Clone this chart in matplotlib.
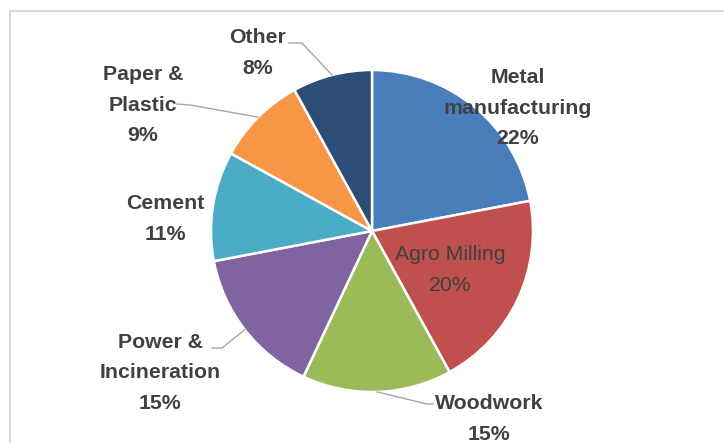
import numpy as np
import matplotlib
matplotlib.use("Agg")
import matplotlib.pyplot as plt
from matplotlib.patches import Rectangle

plt.rcParams['font.family'] = ['Liberation Sans', 'DejaVu Sans']

# share of industrial sectors
sectors = ['Metal\nmanufacturing', 'Agro Milling', 'Woodwork', 'Power &\nIncineration',
           'Cement', 'Paper &\nPlastic', 'Other']
shares = [22, 20, 15, 15, 11, 9, 8]
colors = ['#4A7EBB', '#C0504D', '#9BBB59', '#8064A2', '#4BACC6', '#F79646', '#2C4D75']

W, H = 724, 443
fig = plt.figure(figsize=(W / 100, H / 100), dpi=100)
ax = fig.add_axes([0, 0, 1, 1])

# chart frame
fig.patches.append(Rectangle((10 / W, -0.1), 1.2, 1 - 11 / H + 0.1, transform=fig.transFigure,
                             fill=False, edgecolor='#D9D9D9', linewidth=1.5))

cx, cy, r = 372, H - 231, 161
ax.pie(shares, colors=colors, startangle=90, counterclock=False, center=(cx, cy), radius=r,
       wedgeprops=dict(edgecolor='white', linewidth=1.8), frame=True)
ax.set_xlim(0, W)
ax.set_ylim(0, H)
ax.set_aspect('equal')
ax.axis('off')

# label placement (pixel coords from top-left), bold flag, leader line elbow
layout = {
    'Metal\nmanufacturing': dict(pos=(518, 108), bold=True, leader=None),
    'Agro Milling': dict(pos=(450, 270), bold=False, leader=None),
    'Woodwork': dict(pos=(489, 419), bold=True, leader=[(427, 404), (433, 404)]),
    'Power &\nIncineration': dict(pos=(160, 373), bold=True, leader=[(222, 348), (212, 348)]),
    'Cement': dict(pos=(165, 219), bold=True, leader=None),
    'Paper &\nPlastic': dict(pos=(143, 105), bold=True, leader=[(190, 105), (177, 104)]),
    'Other': dict(pos=(258, 53), bold=True, leader=[(302, 43), (289, 43)]),
}

cum = np.cumsum([0] + shares)
for i, (name, val) in enumerate(zip(sectors, shares)):
    spec = layout[name]
    px, py = spec['pos']
    ax.text(px, H - py, f'{name}\n{val}%', ha='center', va='center', fontsize=15.3,
            fontweight='bold' if spec['bold'] else 'normal', color='#404040',
            linespacing=1.74)
    if spec['leader']:
        mid = np.deg2rad(90 - 360 * (cum[i] + val / 2) / 100)
        ex, ey = cx + r * np.cos(mid), cy + r * np.sin(mid)
        xs = [ex] + [p[0] for p in spec['leader']]
        ys = [ey] + [H - p[1] for p in spec['leader']]
        ax.plot(xs, ys, color='#A6A6A6', linewidth=1)

fig.savefig('out.png', dpi=100)
